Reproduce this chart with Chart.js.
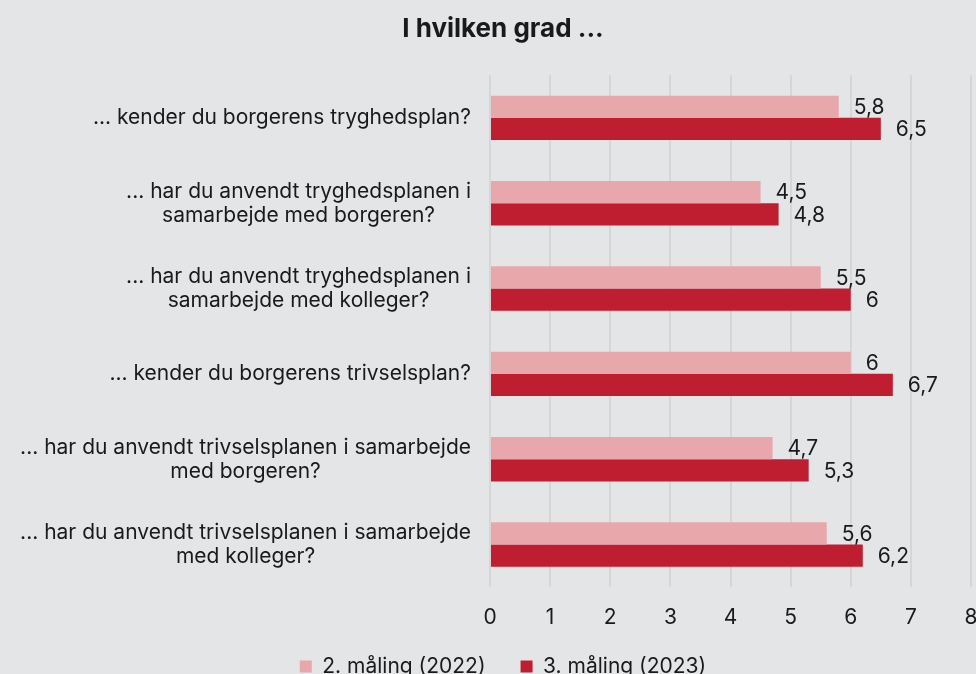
<!DOCTYPE html>
<html>
<head>
<meta charset="utf-8">
<script src="https://cdn.jsdelivr.net/npm/chart.js@4.4.1/dist/chart.umd.min.js"></script>
<style>
    html, body { margin: 0; padding: 0; background: #e4e5e7; overflow: hidden; }
    #wrap { width: 976px; height: 674px; overflow: hidden; }
    #box { width: 1006px; height: 687px; position: relative; }
</style>
</head>
<body>
<div id="wrap"><div id="box"><canvas id="chart"></canvas></div></div>
<script>
// spørgsmål (y-aksen), hver linje for sig
const categories = [
    ['... kender du borgerens tryghedsplan?'],
    ['... har du anvendt tryghedsplanen i', 'samarbejde med borgeren?'],
    ['... har du anvendt tryghedsplanen i', 'samarbejde med kolleger?'],
    ['... kender du borgerens trivselsplan?'],
    ['... har du anvendt trivselsplanen i samarbejde', 'med borgeren?'],
    ['... har du anvendt trivselsplanen i samarbejde', 'med kolleger?'],
];
const seriesNames = ['2. måling (2022)', '3. måling (2023)'];
const values2022 = [5.8, 4.5, 5.5, 6, 4.7, 5.6];
const values2023 = [6.5, 4.8, 6, 6.7, 5.3, 6.2];
const xTicks = [0, 1, 2, 3, 4, 5, 6, 7, 8];

const FONT = 'Inter, "Noto Sans", sans-serif';
const TEXT = '#1a1a1a';
const FS = 21;

// y-labels: blokken højrestillet, linjerne centreret i blokken
const yLabelsPlugin = {
    id: 'yLabels',
    afterDraw(chart) {
        const ctx = chart.ctx;
        const scale = chart.scales.y;
        const right = chart.chartArea.left - 19;
        const lineH = 24;
        ctx.save();
        ctx.font = FS + 'px ' + FONT;
        ctx.fillStyle = TEXT;
        ctx.textAlign = 'center';
        ctx.textBaseline = 'middle';
        categories.forEach((lines, i) => {
            const y = scale.getPixelForTick(i);
            const w = Math.max(...lines.map(l => ctx.measureText(l).width));
            const cx = right - w / 2;
            const top = y - (lines.length - 1) * lineH / 2;
            lines.forEach((l, j) => ctx.fillText(l, cx, top + j * lineH));
        });
        ctx.restore();
    }
};

// værdier til højre for søjlerne
const valueLabelsPlugin = {
    id: 'valueLabels',
    afterDatasetsDraw(chart) {
        const ctx = chart.ctx;
        ctx.save();
        ctx.font = FS + 'px ' + FONT;
        ctx.fillStyle = TEXT;
        ctx.textAlign = 'left';
        ctx.textBaseline = 'middle';
        chart.data.datasets.forEach((ds, di) => {
            chart.getDatasetMeta(di).data.forEach((bar, i) => {
                const txt = String(ds.data[i]).replace('.', ',');
                ctx.fillText(txt, bar.x + 15, bar.y + 1);
            });
        });
        ctx.restore();
    }
};

new Chart(document.getElementById('chart'), {
    type: 'bar',
    data: {
        labels: categories.map(c => c.join(' ')),
        datasets: [
            {label: seriesNames[0], data: values2022, backgroundColor: '#e8a7ab', borderWidth: 0},
            {label: seriesNames[1], data: values2023, backgroundColor: '#be1e2f', borderWidth: 0},
        ],
    },
    options: {
        indexAxis: 'y',
        responsive: true,
        maintainAspectRatio: false,
        animation: false,
        datasets: {bar: {categoryPercentage: 0.52, barPercentage: 1}},
        layout: {padding: 0},
        scales: {
            x: {
                min: 0,
                max: 8,
                afterBuildTicks: (s) => { s.ticks = xTicks.map(v => ({value: v})); },
                afterFit: (s) => {
                    s.paddingRight = 35;
                    s.height = 33.8; // tick-tekst må gerne gå ind under legenden
                    s._computeLabelArea = () => undefined; // ingen klipning af tick-tekst
                },
                grid: {color: '#d5d6d8', lineWidth: 2, drawTicks: false},
                border: {display: false},
                ticks: {color: TEXT, font: {family: FONT, size: FS}, padding: 18},
            },
            y: {
                grid: {display: false},
                border: {display: false},
                ticks: {display: false},
                afterFit: (s) => { s.width = 490; },
            },
        },
        plugins: {
            title: {
                display: true,
                text: 'I hvilken grad ...',
                color: TEXT,
                font: {family: FONT, size: 26, weight: 'bold'},
                padding: {top: 14, bottom: 30},
            },
            legend: {
                position: 'bottom',
                labels: {
                    color: TEXT,
                    font: {family: FONT, size: FS},
                    boxWidth: 12,
                    boxHeight: 12,
                    padding: 35,
                },
            },
            tooltip: {enabled: false},
        },
    },
    plugins: [yLabelsPlugin, valueLabelsPlugin],
});
</script>
</body>
</html>
